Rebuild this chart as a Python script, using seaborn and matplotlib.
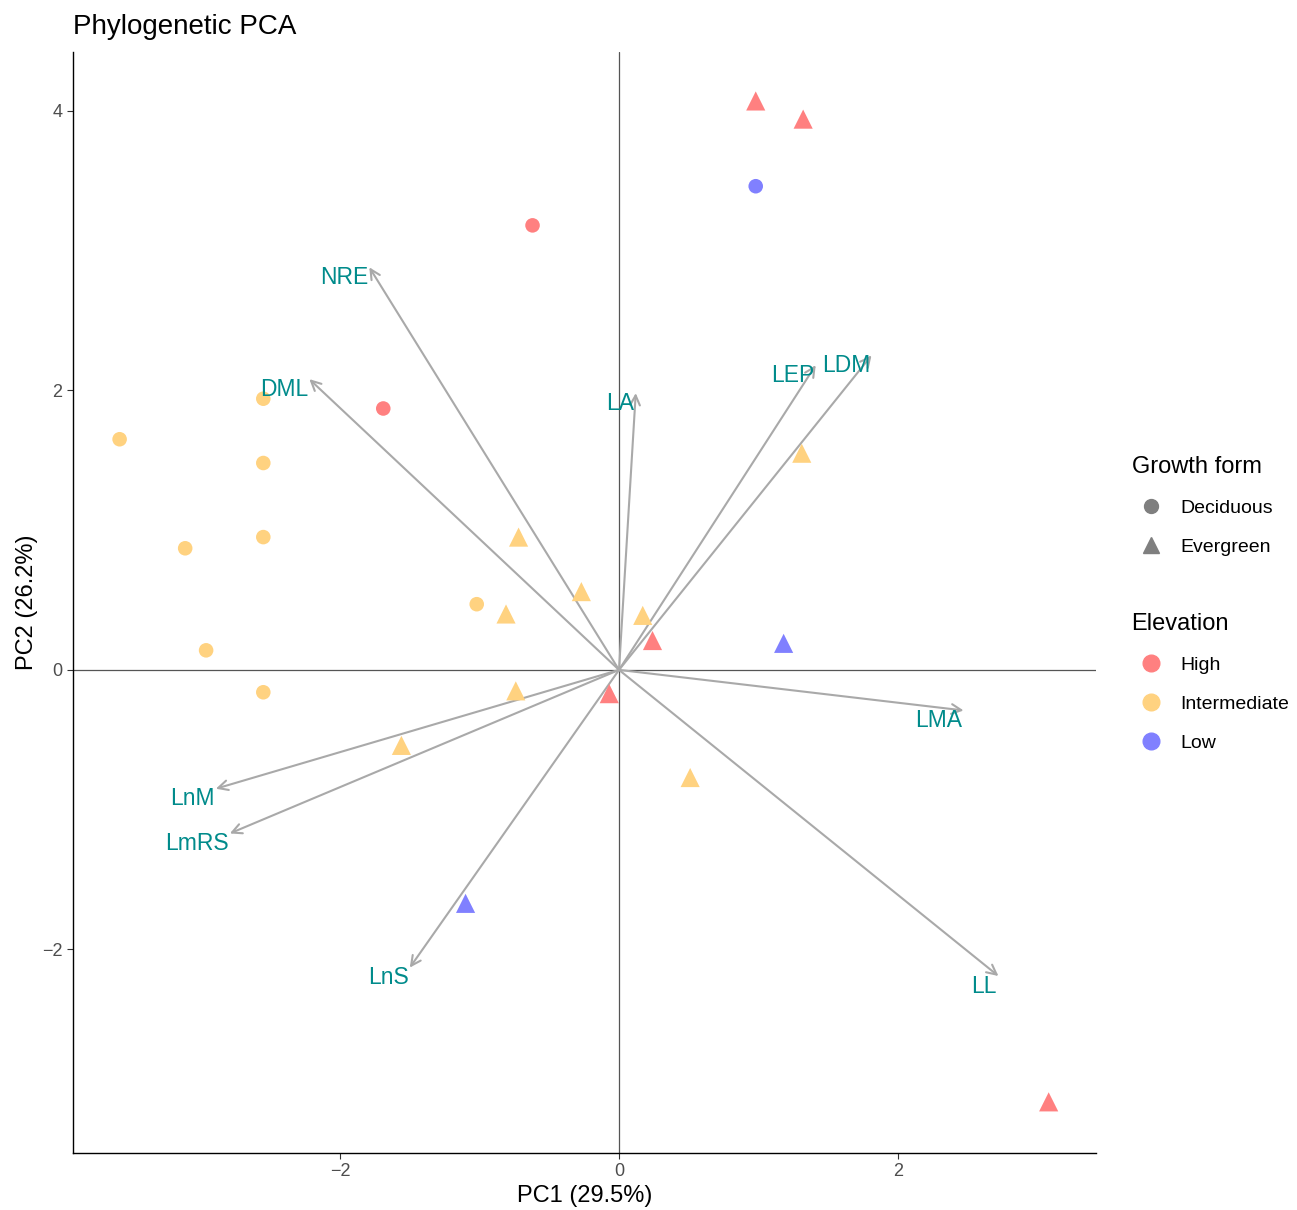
import numpy as np
import pandas as pd
import matplotlib
matplotlib.use("Agg")
import matplotlib.pyplot as plt
from matplotlib.lines import Line2D
import seaborn as sns

# species scores on the first two phylogenetic PCs
pc1 = [-3.58, -2.55, -2.55, -2.55, -3.11, -2.96, -2.55, -1.02, -1.69, -0.62, 0.98,
       0.98, 1.32, 1.31, -0.72, -0.27, -0.81, 0.17, 0.24, 1.18, -0.74, -0.07, -1.56, 0.51, -1.10, 3.08]
pc2 = [1.65, 1.94, 1.48, 0.95, 0.87, 0.14, -0.16, 0.47, 1.87, 3.18, 3.46,
       4.07, 3.94, 1.55, 0.95, 0.56, 0.40, 0.39, 0.21, 0.19, -0.15, -0.17, -0.54, -0.77, -1.67, -3.09]
growth = ["Deciduous"] * 11 + ["Evergreen"] * 15
elevation = ["Intermediate"] * 8 + ["High", "High", "Low"] + \
    ["High", "High", "Intermediate", "Intermediate", "Intermediate", "Intermediate", "Intermediate",
     "High", "Low", "Intermediate", "High", "Intermediate", "Intermediate", "Low", "High"]

# trait loadings (arrow tips)
traits = ["NRE", "DML", "LA", "LEP", "LDM", "LMA", "LL", "LnS", "LmRS", "LnM"]
load1 = [-1.79, -2.22, 0.12, 1.41, 1.81, 2.47, 2.72, -1.50, -2.79, -2.89]
load2 = [2.88, 2.08, 1.98, 2.18, 2.25, -0.29, -2.19, -2.13, -1.17, -0.85]

df = pd.DataFrame({"PC1": pc1, "PC2": pc2, "Growth form": growth, "Elevation": elevation})

pal = {"High": "#FF8080", "Intermediate": "#FFD280", "Low": "#8080FF"}
marks = {"Deciduous": "o", "Evergreen": "^"}

sns.set_style("white")
plt.rcParams["font.family"] = ["Liberation Sans", "DejaVu Sans"]
plt.rcParams["text.color"] = "black"
plt.rcParams["axes.labelcolor"] = "black"

fig = plt.figure(figsize=(12.97, 12.10), dpi=100)
ax = fig.add_axes([0.0563, 0.0471, 0.7887, 0.9099])

ax.axhline(0, color="#555555", lw=0.9, zorder=1)
ax.axvline(0, color="#555555", lw=0.9, zorder=1)

for g, s in [("Deciduous", 110), ("Evergreen", 190)]:
    sub = df[df["Growth form"] == g]
    sns.scatterplot(data=sub, x="PC1", y="PC2", hue="Elevation", palette=pal,
                    marker=marks[g], s=s, linewidth=0, ax=ax, legend=False, zorder=3)

for t, x, y in zip(traits, load1, load2):
    ax.annotate("", xy=(x, y), xytext=(0, 0),
                arrowprops=dict(arrowstyle="->,head_length=0.7,head_width=0.35",
                                color="#A9A9A9", lw=1.5, shrinkA=0, shrinkB=0), zorder=2)
    ax.text(x - 0.01, y + 0.01, t, color="#008B8B", fontsize=16.5, ha="right", va="top", zorder=4)

ax.set_xlim(-3.914, 3.419)
ax.set_ylim(-3.456, 4.42)
ax.set_xticks([-2, 0, 2])
ax.set_yticks([-2, 0, 2, 4])
ax.set_xticklabels(["\u22122", "0", "2"])
ax.set_yticklabels(["\u22122", "0", "2", "4"])
ax.tick_params(axis="both", labelsize=13, colors="#4D4D4D", length=4, width=0.8, left=True, bottom=True)
ax.tick_params(axis="both", color="#333333")
for side in ["top", "right"]:
    ax.spines[side].set_visible(False)
for side in ["left", "bottom"]:
    ax.spines[side].set_color("black")
    ax.spines[side].set_linewidth(1.0)
ax.set_xlabel("PC1 (29.5%)", fontsize=17, labelpad=3)
ax.set_ylabel("PC2 (26.2%)", fontsize=17, labelpad=3)
ax.set_title("Phylogenetic PCA", fontsize=20, loc="left", x=0.0, pad=13)

grey = "#7F7F7F"
h1 = [Line2D([], [], marker="o", color=grey, ls="", markersize=10),
      Line2D([], [], marker="^", color=grey, ls="", markersize=12)]
leg1 = fig.legend(h1, ["Deciduous", "Evergreen"], title="Growth form", loc="upper left",
                  bbox_to_anchor=(0.859, 0.638), frameon=False, fontsize=14,
                  title_fontsize=17, labelspacing=1.1, handletextpad=0.5, alignment="left")
h2 = [Line2D([], [], marker="o", color=pal[k], ls="", markersize=12) for k in pal]
leg2 = fig.legend(h2, list(pal.keys()), title="Elevation", loc="upper left",
                  bbox_to_anchor=(0.859, 0.508), frameon=False, fontsize=14,
                  title_fontsize=17, labelspacing=1.1, handletextpad=0.5, alignment="left")

fig.savefig("out.png", dpi=100)
